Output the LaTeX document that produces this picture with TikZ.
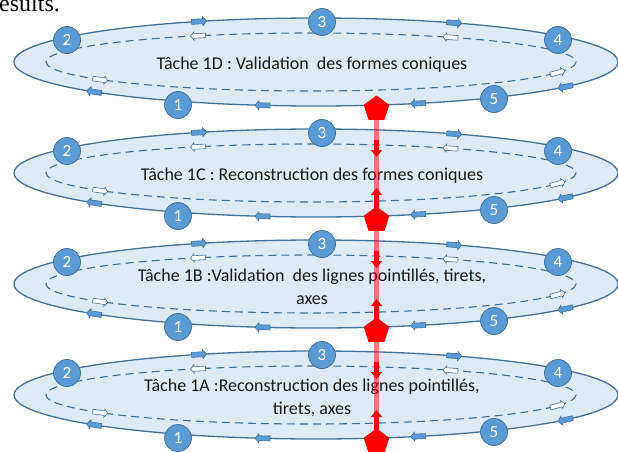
\documentclass[tikz,border=0pt]{standalone}
\usepackage{fontspec}
\setmainfont{Carlito}
\newfontfamily\timesf{Liberation Serif}
\usetikzlibrary{shapes.geometric,shapes.arrows,arrows.meta}
\definecolor{ellfill}{RGB}{222,235,247}
\definecolor{ellline}{RGB}{65,113,156}
\definecolor{numfill}{RGB}{91,155,213}
\newcommand\ellarr[7]{%
  \pgfmathsetmacro\ax{#1+#3*cos(#5)}%
  \pgfmathsetmacro\ay{#2+#4*sin(#5)}%
  \ifx#6o\pgfmathsetmacro\ang{atan2(-#4*cos(#5),-#3*sin(#5))}\node[outarr,rotate=\ang] (#7) at (\ax,\ay) {};%
  \else\pgfmathsetmacro\ang{atan2(#4*cos(#5),#3*sin(#5))}\node[inarr,rotate=\ang] (#7) at (\ax,\ay) {};\fi}
\begin{document}
\begin{tikzpicture}[x=1pt,y=-1pt,
  outarr/.style={single arrow, draw=ellline, fill=numfill, line width=0.6pt, inner sep=2.2pt,
    minimum height=15pt, single arrow head extend=2pt, single arrow tip angle=100},
  inarr/.style={single arrow, draw=ellline, fill=white, line width=0.6pt, inner sep=2pt,
    minimum height=15pt, single arrow head extend=1.8pt, single arrow tip angle=100},
  numc/.style={circle, draw=ellline, fill=numfill, line width=0.8pt, minimum size=27pt, inner sep=0pt,
    text=white, font=\fontsize{17}{17}\selectfont},
  tasktext/.style={align=center, text=black!90, font=\fontsize{18}{23}\selectfont},
  pent/.style={regular polygon, regular polygon sides=5, fill=red, inner sep=0pt, minimum size=27pt},
  band/.style={draw=red, draw opacity=0.5, line width=5pt},
  redarr/.style={draw=red, line width=5pt, -{Triangle[length=7pt,width=11pt]}}]
\useasboundingbox (0,0) rectangle (618,452);
\node[anchor=base west, inner sep=0pt, font=\timesf\fontsize{24}{24}\selectfont] (res) at (-1,12) {esults.};
\foreach \k/\txt in {0/{Tâche 1D : Validation\ \ des formes coniques},
  1/{Tâche 1C : Reconstruction des formes coniques},
  2/{Tâche 1B :Validation\ \ des lignes pointillés, tirets,\\axes},
  3/{Tâche 1A :Reconstruction des lignes pointillés,\\tirets, axes}}{
  \pgfmathsetmacro\cy{62+111*\k}
  \draw[ellline, line width=1.3pt, fill=ellfill] (316,\cy) ellipse [x radius=302, y radius=44];
  \draw[ellline, line width=1.1pt, dash pattern=on 8pt off 5pt] (311,\cy) ellipse [x radius=265, y radius=29];
  \foreach \t [count=\i] in {-113,-63,34,70,100,137} {\ellarr{316}{\cy}{302}{44}{\t}{o}{oa\k\i}}
  \foreach \t [count=\i] in {-115,-58,22,143} {\ellarr{311}{\cy}{265}{29}{\t}{i}{ia\k\i}}
  \node[tasktext] (t\k) at (312,\cy+2.5) {\txt};
  \node[numc] (c\k b) at (67,\cy-22) {2};
  \node[numc] (c\k c) at (322,\cy-40) {3};
  \node[numc] (c\k d) at (558,\cy-22) {4};
  \node[numc] (c\k e) at (494,\cy+37) {5};
  \node[numc] (c\k a) at (178,\cy+43) {1};
  \node[pent] (p\k) at (376.5,\cy+47) {};
}
\foreach \k in {0,1,2}{
  \pgfmathtruncatemacro\n{\k+1}
  \pgfmathsetmacro\cy{62+111*\k}
  \draw[band] (p\k) -- (p\n);
  \coordinate (da\k) at (376.5,\cy+78);
  \coordinate (db\k) at (376.5,\cy+95);
  \draw[redarr] (da\k) -- (db\k);
  \coordinate (ua\k) at (376.5,\cy+148);
  \coordinate (ub\k) at (376.5,\cy+126);
  \draw[redarr] (ua\k) -- (ub\k);
}
\end{tikzpicture}
\end{document}
